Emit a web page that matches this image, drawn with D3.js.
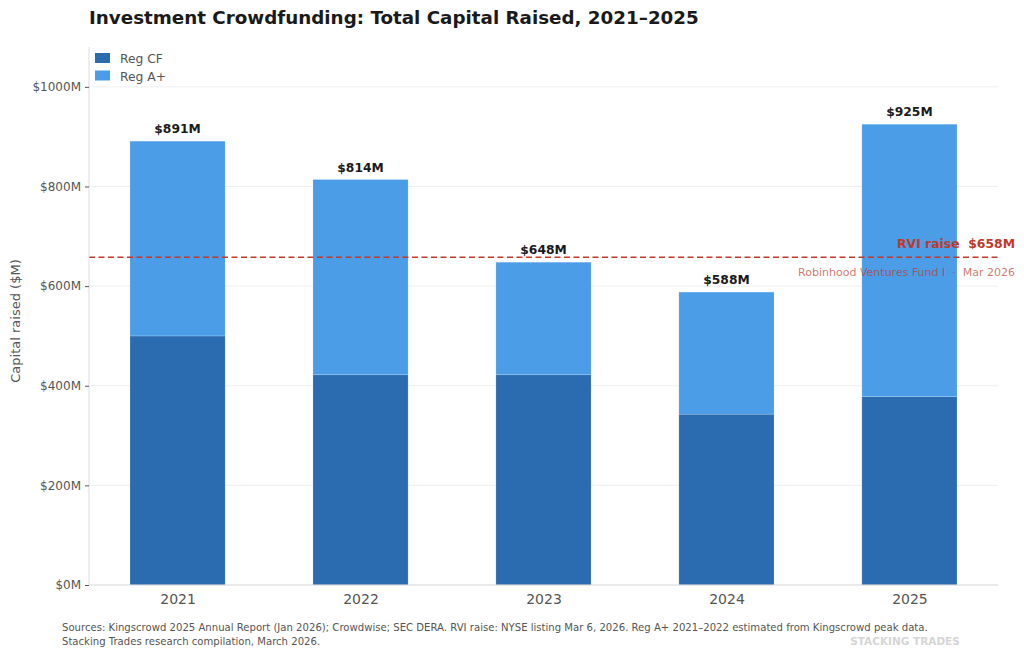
<!DOCTYPE html>
<html>
<head>
<meta charset="utf-8">
<script src="https://cdn.jsdelivr.net/npm/d3@7"></script>
<style>
  body { margin: 0; background: #fff; }
  svg { font-family: "DejaVu Sans", sans-serif; display: block; }
</style>
</head>
<body>
<div id="chart"></div>
<script>
// chart data
const years = ["2021", "2022", "2023", "2024", "2025"];
const regCF = [500, 422, 422, 343, 378];
const regA = [391, 392, 226, 245, 547];
const totals = [891, 814, 648, 588, 925];
const yTicks = [0, 200, 400, 600, 800, 1000];
const rviRaise = 658;

const width = 1024, height = 655;
const plotLeft = 89, plotRight = 998, plotTop = 47, plotBottom = 585;

const svg = d3.select("#chart").append("svg")
  .attr("width", width).attr("height", height);

const x = d3.scaleLinear().domain([-0.484, years.length - 1 + 0.484]).range([plotLeft, plotRight]);
const y = d3.scaleLinear().domain([0, 1080]).range([plotBottom, plotTop]);
const barW = x(0.52) - x(0);

// gridlines
svg.append("g").selectAll("line").data(yTicks).enter().append("line")
  .attr("x1", plotLeft).attr("x2", plotRight)
  .attr("y1", d => y(d)).attr("y2", d => y(d))
  .attr("stroke", "#ebebeb").attr("stroke-width", 0.8);

// stacked bars
const stack = d3.stack().keys(["cf", "a"])(years.map((yr, i) => ({ cf: regCF[i], a: regA[i] })));
const colors = ["#2b6cb0", "#4a9de6"];
stack.forEach((layer, k) => {
  svg.append("g").selectAll("rect").data(layer).enter().append("rect")
    .attr("x", (d, i) => x(i) - barW / 2)
    .attr("width", barW)
    .attr("y", d => y(d[1]))
    .attr("height", d => y(d[0]) - y(d[1]))
    .attr("fill", colors[k])
    .attr("stroke", "rgba(255,255,255,0.3)").attr("stroke-width", 0.6);
});

// total labels
svg.append("g").selectAll("text").data(totals).enter().append("text")
  .attr("x", (d, i) => x(i)).attr("y", d => y(d) - 8)
  .attr("text-anchor", "middle")
  .attr("font-size", 12.3).attr("font-weight", "bold").attr("fill", "#1a1a1a")
  .text(d => "$" + d + "M");

// RVI line
svg.append("line")
  .attr("x1", plotLeft).attr("x2", plotRight)
  .attr("y1", y(rviRaise)).attr("y2", y(rviRaise))
  .attr("stroke", "#c0392b").attr("stroke-width", 1.6)
  .attr("stroke-dasharray", "6,3.5");
svg.append("text")
  .attr("x", 1015).attr("y", y(rviRaise) - 9)
  .attr("text-anchor", "end").attr("font-size", 12.4).attr("font-weight", "bold")
  .attr("fill", "#c0392b").attr("xml:space", "preserve")
  .text("RVI raise  $" + rviRaise + "M");
svg.append("text")
  .attr("x", 1015).attr("y", y(rviRaise) + 19)
  .attr("text-anchor", "end").attr("font-size", 11)
  .attr("fill", "#c0392b").attr("fill-opacity", 0.7).attr("xml:space", "preserve")
  .text("Robinhood Ventures Fund I  ·  Mar 2026");

// axes
const yAxis = svg.append("g").attr("transform", `translate(${plotLeft},0)`)
  .call(d3.axisLeft(y).tickValues(yTicks).tickFormat(d => "$" + d + "M").tickSize(4).tickPadding(4));
yAxis.select(".domain").attr("stroke", "#dddddd").attr("d", `M0,${plotTop}V${plotBottom}`);
yAxis.selectAll(".tick line").attr("stroke", "#555");
yAxis.selectAll(".tick text").attr("font-size", 12).attr("fill", "#555").attr("font-family", "DejaVu Sans");

const xAxis = svg.append("g").attr("transform", `translate(0,${plotBottom})`)
  .call(d3.axisBottom(x).tickValues(d3.range(years.length)).tickFormat(i => years[i]).tickSize(0).tickPadding(9));
xAxis.select(".domain").attr("stroke", "#dddddd").attr("d", `M${plotLeft},0H${plotRight}`);
xAxis.selectAll(".tick text").attr("font-size", 14).attr("fill", "#555").attr("font-family", "DejaVu Sans");

// y label
svg.append("text")
  .attr("transform", `translate(20,${(plotTop + plotBottom) / 2 + 5}) rotate(-90)`)
  .attr("text-anchor", "middle").attr("font-size", 13).attr("fill", "#555")
  .text("Capital raised ($M)");

// title
svg.append("text")
  .attr("x", 89).attr("y", 24)
  .attr("font-size", 18.3).attr("font-weight", "bold").attr("fill", "#1a1a1a")
  .text("Investment Crowdfunding: Total Capital Raised, 2021–2025");

// legend
const legendNames = ["Reg CF", "Reg A+"];
const lg = svg.append("g").attr("transform", "translate(95,53)");
legendNames.forEach((n, i) => {
  lg.append("rect").attr("x", 0).attr("y", i * 17.5).attr("width", 15).attr("height", 10).attr("fill", colors[i]);
  lg.append("text").attr("x", 25).attr("y", i * 17.5 + 10).attr("font-size", 12.3).attr("fill", "#555").text(n);
});

// footer
const footer = [
  "Sources: Kingscrowd 2025 Annual Report (Jan 2026); Crowdwise; SEC DERA. RVI raise: NYSE listing Mar 6, 2026. Reg A+ 2021–2022 estimated from Kingscrowd peak data.",
  "Stacking Trades research compilation, March 2026."
];
footer.forEach((t, i) => {
  svg.append("text").attr("x", 62).attr("y", 631 + i * 13.5)
    .attr("font-size", 10.1).attr("fill", "#555").text(t);
});
svg.append("text").attr("x", 905).attr("y", 644.5).attr("text-anchor", "middle")
  .attr("font-size", 10.5).attr("font-weight", "bold").attr("fill", "#d5d5d5")
  .text("STACKING TRADES");
</script>
</body>
</html>
